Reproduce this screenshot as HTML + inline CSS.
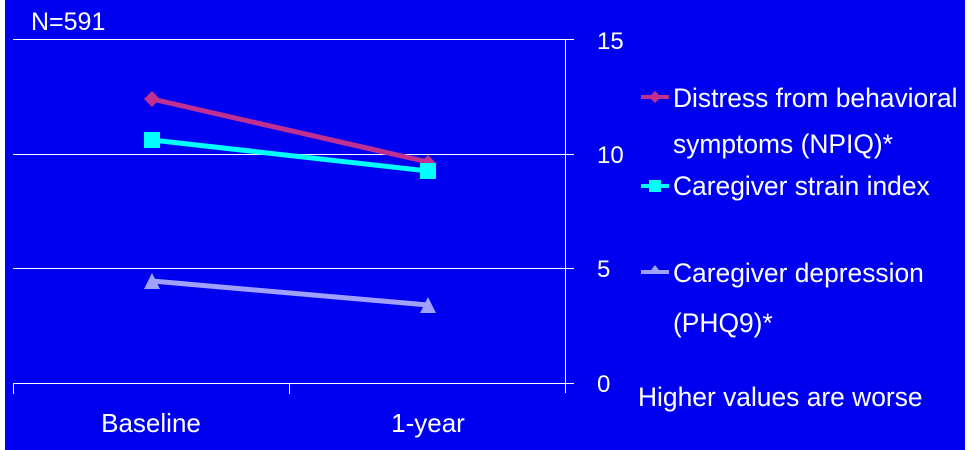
<!DOCTYPE html>
<html><head><style>
html,body{margin:0;padding:0;background:#fff;}
svg{display:block;}
text{font-family:"Liberation Sans",Arial,sans-serif;fill:#fff;}
</style></head><body>
<svg width="972" height="450" xmlns="http://www.w3.org/2000/svg">
<rect x="5" y="0" width="960" height="450" fill="#0000f0"/>
<text x="31" y="30" font-size="25">N=591</text>
<g stroke="#fff" stroke-width="1">
<line x1="13" y1="39.5" x2="574" y2="39.5"/>
<line x1="13" y1="154.5" x2="574" y2="154.5"/>
<line x1="13" y1="268.5" x2="574" y2="268.5"/>
<line x1="13" y1="383.5" x2="574" y2="383.5"/>
<line x1="565.5" y1="39" x2="565.5" y2="393"/>
<line x1="13.5" y1="383" x2="13.5" y2="394"/>
<line x1="289.5" y1="383" x2="289.5" y2="394"/>
</g>
<g font-size="24">
<text x="597" y="49">15</text>
<text x="597" y="163">10</text>
<text x="597" y="277">5</text>
<text x="597" y="392">0</text>
</g>
<g font-size="26">
<text x="151" y="432" text-anchor="middle">Baseline</text>
<text x="428" y="432" text-anchor="middle">1-year</text>
</g>
<line x1="152" y1="99" x2="428" y2="162" stroke="#c03090" stroke-width="5"/>
<polygon points="152,91 160,99 152,107 144,99" fill="#c03090"/>
<polygon points="428,155 436,163 428,171 420,163" fill="#c03090"/>
<line x1="152" y1="140" x2="428" y2="171" stroke="#00ffff" stroke-width="5"/>
<rect x="144" y="132" width="16" height="16" fill="#00ffff"/>
<rect x="420" y="163" width="16" height="16" fill="#00ffff"/>
<line x1="152" y1="281" x2="428" y2="305" stroke="#a0a0ff" stroke-width="5"/>
<polygon points="152,273 160,289 144,289" fill="#a0a0ff"/>
<polygon points="428,297 436,313 420,313" fill="#a0a0ff"/>
<line x1="641" y1="97" x2="669" y2="97" stroke="#c03090" stroke-width="4"/>
<polygon points="655,91 661,97 655,103 649,97" fill="#c03090"/>
<line x1="641" y1="186" x2="669" y2="186" stroke="#00ffff" stroke-width="4"/>
<rect x="649" y="180" width="12" height="12" fill="#00ffff"/>
<line x1="641" y1="272" x2="669" y2="272" stroke="#a0a0ff" stroke-width="4"/>
<polygon points="655,265 662,274 648,274" fill="#a0a0ff"/>
<g font-size="26.4">
<text x="673" y="107">Distress from behavioral</text>
<text x="673" y="153">symptoms (NPIQ)*</text>
<text x="673" y="195">Caregiver strain index</text>
<text x="673" y="282">Caregiver depression</text>
<text x="673" y="332">(PHQ9)*</text>
<text x="638" y="406">Higher values are worse</text>
</g>
</svg>
</body></html>
